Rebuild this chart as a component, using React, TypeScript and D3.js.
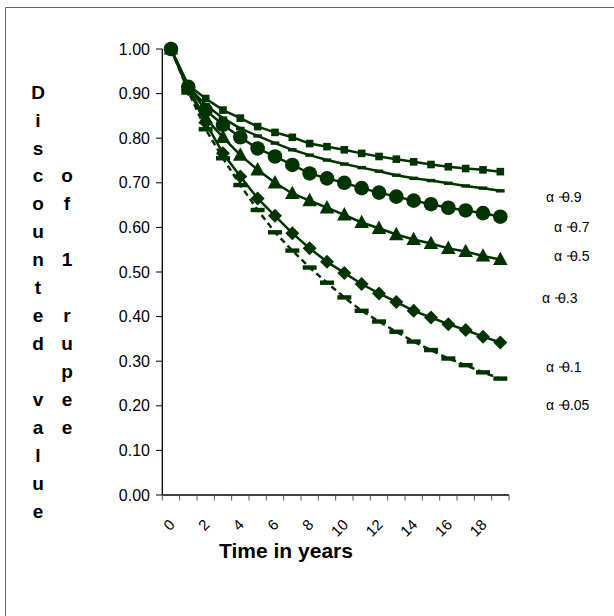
import React from "react";
import * as d3 from "d3";

const years = d3.range(0, 20);
const xTickLabels = ["0", "2", "4", "6", "8", "10", "12", "14", "16", "18"];
const yTicks = [0, 0.1, 0.2, 0.3, 0.4, 0.5, 0.6, 0.7, 0.8, 0.9, 1.0];

const alphaLabels = ["0.9", "0.7", "0.5", "0.3", "0.1", "0.05"];

const s09 = [1, 0.919, 0.889, 0.863, 0.845, 0.826, 0.813, 0.802, 0.788, 0.781, 0.774, 0.766, 0.759, 0.753, 0.747, 0.741, 0.736, 0.732, 0.729, 0.725];
const s07 = [1, 0.915, 0.875, 0.845, 0.822, 0.805, 0.789, 0.774, 0.762, 0.751, 0.742, 0.734, 0.726, 0.717, 0.71, 0.705, 0.699, 0.693, 0.688, 0.682];
const s05 = [1, 0.915, 0.863, 0.83, 0.802, 0.777, 0.759, 0.74, 0.721, 0.71, 0.7, 0.688, 0.678, 0.669, 0.66, 0.652, 0.644, 0.638, 0.632, 0.624];
const s03 = [1, 0.91, 0.845, 0.802, 0.762, 0.729, 0.7, 0.676, 0.66, 0.644, 0.628, 0.611, 0.598, 0.584, 0.573, 0.564, 0.553, 0.546, 0.536, 0.528];
const s01 = [1, 0.91, 0.835, 0.766, 0.714, 0.665, 0.626, 0.587, 0.553, 0.523, 0.498, 0.473, 0.452, 0.433, 0.413, 0.398, 0.383, 0.37, 0.355, 0.342];
const s005 = [1, 0.905, 0.82, 0.755, 0.695, 0.639, 0.589, 0.548, 0.51, 0.476, 0.443, 0.413, 0.389, 0.366, 0.344, 0.325, 0.306, 0.291, 0.275, 0.261];

const col1 = ["D", "i", "s", "c", "o", "u", "n", "t", "e", "d", "", "v", "a", "l", "u", "e"];
const col2 = ["", "", "", "o", "f", "", "1", "", "r", "u", "p", "e", "e", "", "", ""];

const GREEN = "#003300";

type Marker = "square" | "bar" | "circle" | "triangle" | "diamond" | "wideBar";

const series: { values: number[]; marker: Marker; dash?: string }[] = [
  { values: s005, marker: "wideBar", dash: "6,4" },
  { values: s01, marker: "diamond" },
  { values: s03, marker: "triangle" },
  { values: s07, marker: "bar" },
  { values: s09, marker: "square" },
  { values: s05, marker: "circle" },
];

const labelPos = [
  { x: 546, y: 197 },
  { x: 554, y: 227 },
  { x: 554, y: 256 },
  { x: 542, y: 298 },
  { x: 546, y: 367 },
  { x: 546, y: 405 },
];

function markerEl(m: Marker, key: string, cx: number, cy: number) {
  const p = { fill: GREEN, key };
  switch (m) {
    case "square":
      return <rect {...p} x={cx - 3.8} y={cy - 3.8} width={7.6} height={7.6} />;
    case "bar":
      return <rect {...p} x={cx - 4.3} y={cy - 1.7} width={8.6} height={3.4} />;
    case "wideBar":
      return <rect {...p} x={cx - 7} y={cy - 2.2} width={14} height={4.4} />;
    case "circle":
      return <circle {...p} cx={cx} cy={cy} r={7.3} />;
    case "triangle":
      return <path {...p} d={`M${cx},${cy - 7.8}L${cx + 7.3},${cy + 5.6}L${cx - 7.3},${cy + 5.6}Z`} />;
    case "diamond":
      return <path {...p} d={`M${cx},${cy - 7}L${cx + 7},${cy}L${cx},${cy + 7}L${cx - 7},${cy}Z`} />;
  }
}

export default function App() {
  const x = d3.scaleBand<number>().domain(years).range([162.3, 509]);
  const y = d3.scaleLinear().domain([0, 1]).range([495, 49]);
  const cx = (i: number) => (x(i) as number) + x.bandwidth() / 2;
  const line = d3
    .line<number>()
    .x((_, i) => cx(i))
    .y((d) => y(d));
  const font = "Arial, 'Liberation Sans', sans-serif";

  const boundaries = d3.range(0, 21).map((i) => 162.3 + i * x.bandwidth());

  return (
    <svg width={614} height={616} style={{ position: "absolute", left: 0, top: 0 }} fontFamily={font}>
      <rect x={0} y={0} width={614} height={616} fill="#fff" />
      {/* outer border */}
      <line x1={5.5} y1={7.5} x2={614} y2={7.5} stroke="#666" strokeWidth={1} />
      <line x1={5.5} y1={7.5} x2={5.5} y2={616} stroke="#666" strokeWidth={1} />

      {/* y axis */}
      <line x1={162.3} y1={49} x2={162.3} y2={495} stroke="#000" strokeWidth={1.3} />
      {yTicks.map((t) => (
        <g key={t}>
          <line x1={156} x2={162.3} y1={y(t)} y2={y(t)} stroke="#000" strokeWidth={1} />
          <text x={150} y={y(t)} dy="0.35em" textAnchor="end" fontSize={16} fill="#000">
            {t.toFixed(2)}
          </text>
        </g>
      ))}

      {/* x axis */}
      <line x1={162.3} y1={495} x2={509} y2={495} stroke="#000" strokeWidth={1.3} />
      {boundaries.map((b, i) => (
        <line key={i} x1={b} x2={b} y1={495} y2={500.5} stroke="#555" strokeWidth={1} />
      ))}
      {xTickLabels.map((lab) => {
        const i = +lab;
        const px = cx(i) + 1;
        const py = 522;
        return (
          <text
            key={lab}
            x={px}
            y={py}
            dy="0.35em"
            textAnchor="end"
            fontSize={15}
            fill="#000"
            transform={`rotate(-45 ${px} ${py})`}
          >
            {lab}
          </text>
        );
      })}
      <text x={286} y={551} dy="0.35em" textAnchor="middle" fontSize={21} fontWeight="bold" fill="#000">
        Time in years
      </text>

      {/* y title */}
      {col1.map((c, i) => (
        <text key={"a" + i} x={38} y={92 + i * 27.93} dy="0.35em" textAnchor="middle" fontSize={19} fontWeight="bold">
          {c}
        </text>
      ))}
      {col2.map((c, i) => (
        <text key={"b" + i} x={67} y={92 + i * 27.93} dy="0.35em" textAnchor="middle" fontSize={19} fontWeight="bold">
          {c}
        </text>
      ))}

      {/* series */}
      {series.map((s, si) => (
        <g key={si}>
          <path d={line(s.values) || ""} fill="none" stroke={GREEN} strokeWidth={2.5} strokeDasharray={s.dash} />
          {s.values.map((v, i) => markerEl(s.marker, `${si}-${i}`, cx(i), y(v)))}
        </g>
      ))}

      {/* alpha labels */}
      {alphaLabels.map((a, i) => (
        <g key={a}>
          <text x={labelPos[i].x} y={labelPos[i].y} dy="0.35em" fontSize={14} fill="#000">
            α
          </text>
          <line
            x1={labelPos[i].x + 13}
            x2={labelPos[i].x + 22}
            y1={labelPos[i].y}
            y2={labelPos[i].y}
            stroke="#000"
            strokeWidth={1}
          />
          <text x={labelPos[i].x + 16} y={labelPos[i].y} dy="0.35em" fontSize={14} fill="#000">
            {a}
          </text>
        </g>
      ))}
    </svg>
  );
}
